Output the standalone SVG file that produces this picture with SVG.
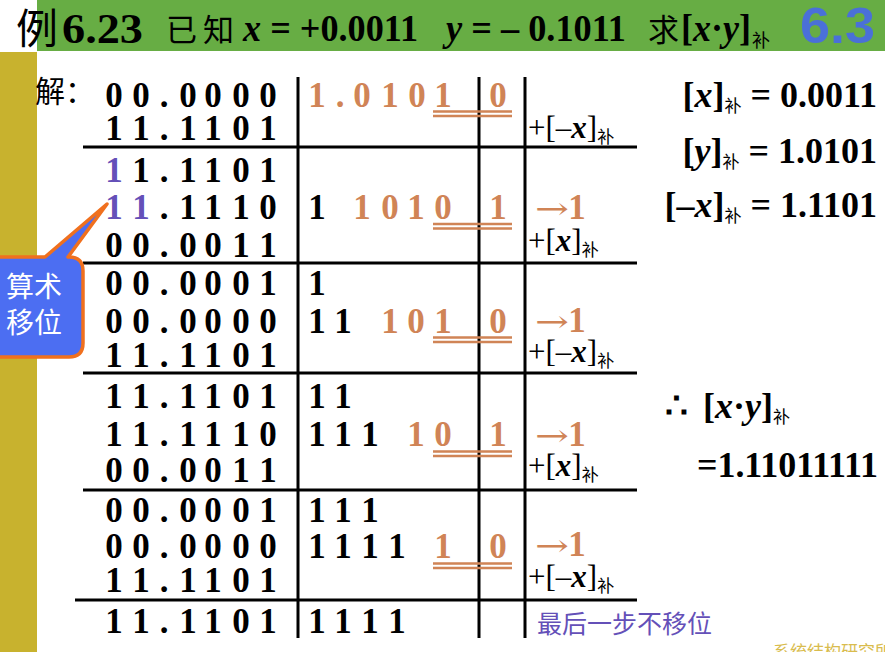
<svg xmlns="http://www.w3.org/2000/svg" width="885" height="652" viewBox="0 0 885 652">
<style>
.ser{font-family:'Liberation Serif','Noto Sans CJK SC',serif}
.cjk{font-family:'Noto Sans CJK SC','Liberation Serif',sans-serif}
.d{font-family:'Liberation Serif',serif;font-weight:bold;font-size:35px;text-anchor:middle;fill:#000}
.o{fill:#D08456}
.p{fill:#6450B8}
.ln{stroke:#000;stroke-width:3;fill:none}
.ul{stroke:#D08456;stroke-width:2.5;fill:none}
.lab{font-family:'Liberation Serif',serif;font-size:31px;fill:#000}
.sub{font-family:'Noto Sans CJK SC',sans-serif;font-size:17px;font-weight:normal;font-style:normal}
.r{font-family:'Liberation Serif',serif;font-weight:bold;font-size:36px;fill:#000}
.arr{font-family:'DejaVu Serif','Liberation Serif',serif;font-size:30px;fill:#D08456}
</style>
<rect width="885" height="652" fill="#fff"/>
<g id="header">
<rect x="37" y="0" width="848" height="51" fill="#67AD44"/>
<text x="16" y="44" class="cjk" font-size="42">例</text>
<text x="62" y="43" class="ser" font-weight="bold" font-size="42" textLength="81" lengthAdjust="spacingAndGlyphs">6.23</text>
<text x="166" y="41" class="cjk" font-size="31" letter-spacing="6">已知</text>
<text x="243" y="41" class="ser" font-weight="bold" font-size="37" textLength="175" lengthAdjust="spacingAndGlyphs"><tspan font-style="italic">x</tspan> = +0.0011</text>
<text x="446" y="41" class="ser" font-weight="bold" font-size="37" textLength="180" lengthAdjust="spacingAndGlyphs"><tspan font-style="italic">y</tspan> = – 0.1011</text>
<text x="648" y="41" class="cjk" font-size="31">求</text>
<text x="681" y="41" class="ser" font-weight="bold" font-size="37" textLength="70" lengthAdjust="spacingAndGlyphs">[<tspan font-style="italic">x</tspan>·<tspan font-style="italic">y</tspan>]</text>
<text x="752" y="47" class="cjk" font-size="18">补</text>
<text x="800" y="43" font-family="'Liberation Sans',sans-serif" font-weight="bold" font-size="50" fill="#4A70D8" textLength="75" lengthAdjust="spacingAndGlyphs">6.3</text>
</g>
<g id="sidebar">
<rect x="0" y="52" width="37" height="600" fill="#C8B22E"/>
</g>
<text id="jie" x="35" y="102" class="cjk" font-size="30">解：</text>
<g id="connectors">
<line class="ln" x1="298" y1="77" x2="298" y2="638"/>
<line class="ln" x1="479" y1="77" x2="479" y2="638"/>
<line class="ln" x1="525" y1="77" x2="525" y2="638"/>
<line class="ln" x1="83" y1="147" x2="637" y2="147"/>
<line class="ln" x1="83" y1="263" x2="637" y2="263"/>
<line class="ln" x1="83" y1="373" x2="637" y2="373"/>
<line class="ln" x1="83" y1="490" x2="637" y2="490"/>
<line class="ln" x1="75" y1="600" x2="637" y2="600"/>
<path class="ul" d="M433 111.5H512M433 116H512M433 224H512M433 228.5H512M433 337.5H512M433 342H512M433 451.5H512M433 456H512M433 563.5H512M433 568H512"/>
</g>
<g id="acc">
<text class="d" x="114 141 164 188 213 241 268" y="107">00.0000</text>
<text class="d" x="114 141 164 188 213 241 268" y="140">11.1101</text>
<text class="d" x="114 141 164 188 213 241 268" y="182"><tspan class="p">1</tspan>1.1101</text>
<text class="d" x="114 141 164 188 213 241 268" y="219"><tspan class="p">11</tspan>.1110</text>
<text class="d" x="114 141 164 188 213 241 268" y="257">00.0011</text>
<text class="d" x="114 141 164 188 213 241 268" y="295">00.0001</text>
<text class="d" x="114 141 164 188 213 241 268" y="333">00.0000</text>
<text class="d" x="114 141 164 188 213 241 268" y="367">11.1101</text>
<text class="d" x="114 141 164 188 213 241 268" y="408">11.1101</text>
<text class="d" x="114 141 164 188 213 241 268" y="446">11.1110</text>
<text class="d" x="114 141 164 188 213 241 268" y="482">00.0011</text>
<text class="d" x="114 141 164 188 213 241 268" y="522">00.0001</text>
<text class="d" x="114 141 164 188 213 241 268" y="558">00.0000</text>
<text class="d" x="114 141 164 188 213 241 268" y="592">11.1101</text>
<text class="d" x="114 141 164 188 213 241 268" y="633">11.1101</text>
</g>
<g id="mq">
<text class="d o" x="317 340 362 390 417 443 498" y="107">1.01010</text>
<text class="d" x="317 362 390 416 443 498" y="219">1<tspan class="o">10101</tspan></text>
<text class="d" x="317" y="295">1</text>
<text class="d" x="317 343 390 416 443 498" y="333">11<tspan class="o">1010</tspan></text>
<text class="d" x="317 343" y="408">11</text>
<text class="d" x="317 343 370 416 443 498" y="446">111<tspan class="o">101</tspan></text>
<text class="d" x="317 343 370" y="522">111</text>
<text class="d" x="317 343 370 397 443 498" y="558">1111<tspan class="o">10</tspan></text>
<text class="d" x="317 343 370 397" y="633">1111</text>
</g>
<g id="ops">
<text class="lab" x="528" y="138">+[–<tspan font-weight="bold" font-style="italic">x</tspan>]<tspan class="sub" dy="5">补</tspan></text>
<text class="arr" x="535" y="219" textLength="34" lengthAdjust="spacingAndGlyphs">→</text>
<text class="d o" x="577" y="219">1</text>
<text class="lab" x="528" y="251">+[<tspan font-weight="bold" font-style="italic">x</tspan>]<tspan class="sub" dy="5">补</tspan></text>
<text class="arr" x="535" y="332" textLength="34" lengthAdjust="spacingAndGlyphs">→</text>
<text class="d o" x="577" y="332">1</text>
<text class="lab" x="528" y="362">+[–<tspan font-weight="bold" font-style="italic">x</tspan>]<tspan class="sub" dy="5">补</tspan></text>
<text class="arr" x="535" y="446" textLength="34" lengthAdjust="spacingAndGlyphs">→</text>
<text class="d o" x="577" y="446">1</text>
<text class="lab" x="528" y="476">+[<tspan font-weight="bold" font-style="italic">x</tspan>]<tspan class="sub" dy="5">补</tspan></text>
<text class="arr" x="535" y="556" textLength="34" lengthAdjust="spacingAndGlyphs">→</text>
<text class="d o" x="577" y="556">1</text>
<text class="lab" x="528" y="587">+[–<tspan font-weight="bold" font-style="italic">x</tspan>]<tspan class="sub" dy="5">补</tspan></text>
<text x="537" y="633" class="cjk" font-size="25" fill="#6450B8">最后一步不移位</text>
</g>
<g id="given">
<text class="r" x="877" y="107" text-anchor="end">[<tspan font-style="italic">x</tspan>]<tspan class="sub" dy="5">补</tspan><tspan dy="-5"> = 0.0011</tspan></text>
<text class="r" x="877" y="163" text-anchor="end">[<tspan font-style="italic">y</tspan>]<tspan class="sub" dy="5">补</tspan><tspan dy="-5"> = 1.0101</tspan></text>
<text class="r" x="877" y="217" text-anchor="end">[–<tspan font-style="italic">x</tspan>]<tspan class="sub" dy="5">补</tspan><tspan dy="-5"> = 1.1101</tspan></text>
</g>
<g id="result">
<text class="r" x="665" y="418">∴<tspan x="703">[</tspan><tspan font-style="italic">x</tspan>·<tspan font-style="italic">y</tspan>]<tspan class="sub" dy="5">补</tspan></text>
<text class="r" x="697" y="477" textLength="181">=1.11011111</text>
</g>
<g id="callout">
<path d="M-10 257H45L107 204L68 257H69Q83 257 83 271V343Q83 357 69 357H-10Z" fill="#4C6EF2" stroke="#F0701E" stroke-width="3.5" stroke-linejoin="round"/>
<text x="34" y="297" class="cjk" font-size="28" fill="#fff" text-anchor="middle">算术</text>
<text x="34" y="333" class="cjk" font-size="28" fill="#fff" text-anchor="middle">移位</text>
</g>
<text id="watermark" x="773" y="658" class="cjk" font-size="17" fill="#D9BC4E">系统结构研究所</text>
</svg>
